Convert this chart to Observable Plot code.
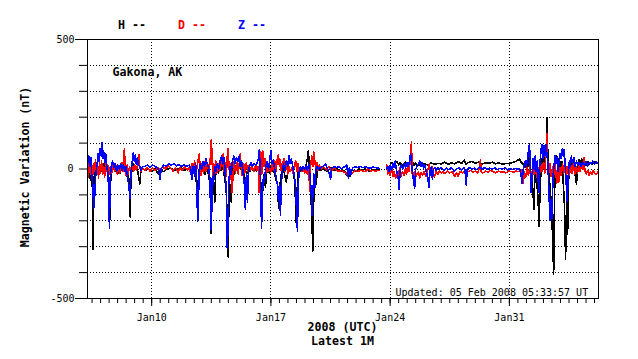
<!DOCTYPE html>
<html><head><meta charset="utf-8">
<script src="https://cdn.jsdelivr.net/npm/d3@7"></script>
<script src="https://cdn.jsdelivr.net/npm/@observablehq/plot@0.6"></script>
<style>body{margin:0;background:#fff}svg{display:block}</style>
</head><body><div id="chart"></div>
<script>
// Time is fractional day of January 2008 (UTC); values in nT.
const H = [[6.23,-10],[6.3,15],[6.36,-30],[6.42,-45],[6.48,-10],[6.52,-80],[6.56,-310],[6.6,-40],[6.66,-20],[6.72,10],[6.8,-15],[6.88,5],[6.95,-20],[7.02,15],[7.1,-10],[7.18,20],[7.26,0],[7.34,10],[7.42,-20],[7.5,-60],[7.55,-195],[7.6,-30],[7.68,0],[7.76,15],[7.84,-10],[7.92,5],[8.0,-20],[8.08,0],[8.15,-15],[8.22,10],[8.3,-5],[8.38,10],[8.46,-15],[8.55,-30],[8.62,-20],[8.7,-60],[8.74,-185],[8.78,-40],[8.86,5],[8.94,20],[9.02,0],[9.1,10],[9.18,-10],[9.26,-40],[9.3,-58],[9.36,-10],[9.45,0],
[9.6,-5],[9.8,0],[10.0,-8],[10.2,0],[10.4,-20],[10.5,-5],[10.7,-10],[10.9,0],[11.1,5],[11.3,-5],[11.5,0],[11.7,5],[11.9,-5],[12.1,0],
[12.2,5],[12.3,-10],[12.4,10],[12.5,-20],[12.6,-40],[12.7,-85],[12.75,-30],[12.82,10],[12.9,-15],[12.98,20],[13.06,0],[13.14,-20],[13.22,10],[13.3,-10],[13.38,-40],[13.45,-120],[13.5,-250],[13.55,-60],[13.62,-20],[13.7,-127],[13.75,-30],[13.82,10],[13.9,-15],[13.98,20],[14.06,-5],[14.14,15],[14.22,-10],[14.3,-40],[14.38,-90],[14.44,-200],[14.49,-340],[14.53,-150],[14.6,-60],[14.67,-127],[14.72,-30],[14.8,10],[14.88,-20],[14.96,15],[15.04,-10],[15.12,20],[15.2,0],[15.28,15],[15.36,-10],[15.44,-30],[15.52,-60],[15.58,-20],[15.66,5],[15.76,-10],[15.86,5],[15.96,-5],[16.06,10],[16.16,-10],[16.26,5],
[16.34,-20],[16.42,-60],[16.48,-135],[16.54,-60],[16.6,-20],[16.68,-70],[16.74,-20],[16.82,5],[16.9,-15],[16.98,10],[17.06,-10],[17.14,5],[17.22,-20],[17.3,-40],[17.38,-60],[17.45,-150],[17.5,-130],[17.56,-40],[17.64,-10],[17.72,5],[17.8,-20],[17.9,-50],[17.98,-15],[18.06,0],[18.14,-10],[18.22,5],[18.3,-15],[18.38,-40],[18.44,-120],[18.49,-208],[18.54,-80],[18.6,-10],[18.68,5],[18.78,-10],[18.88,0],[18.98,-15],[19.06,10],[19.14,40],[19.2,70],[19.26,10],[19.32,-60],[19.4,-180],[19.46,-317],[19.52,-100],[19.58,-40],[19.66,-60],[19.72,-10],[19.8,0],
[19.9,-5],[20.1,0],[20.3,-10],[20.5,5],[20.7,-5],[20.9,0],[21.1,-10],[21.3,-5],[21.45,-25],[21.55,-10],[21.65,-30],[21.75,-5],[21.95,-10],[22.15,0],[22.35,-5],[22.55,0],[22.75,-8],[22.95,-3],[23.15,-5],[23.35,-3],[23.6,null],
[23.82,5],[23.9,-5],[24.0,15],[24.1,25],[24.2,10],[24.3,20],[24.4,30],[24.5,15],[24.6,25],[24.7,10],[24.8,20],[24.9,28],[25.0,15],[25.1,25],[25.2,18],[25.3,28],[25.4,15],[25.5,22],[25.6,12],
[25.8,20],[26.0,22],[26.2,15],[26.4,24],[26.6,18],[26.8,22],[27.0,20],[27.2,26],[27.4,18],[27.6,24],[27.8,20],[28.0,28],[28.2,22],[28.35,35],[28.45,18],[28.6,25],[28.8,30],[29.0,22],[29.2,26],[29.4,20],[29.6,24],[29.8,22],[30.0,26],[30.2,20],[30.4,24],[30.6,18],[30.8,22],[31.0,20],[31.2,26],[31.4,30],[31.6,38],[31.7,25],
[31.8,20],[31.9,5],[32.0,25],[32.08,10],[32.15,48],[32.22,0],[32.3,-40],[32.38,-80],[32.44,-155],[32.5,-30],[32.56,20],[32.62,-60],[32.68,-110],[32.74,-220],[32.8,-90],[32.86,0],[32.92,40],[33.0,10],[33.06,50],[33.12,30],[33.18,90],[33.22,197],[33.26,40],[33.32,-20],[33.4,-80],[33.48,-150],[33.55,-300],[33.6,-405],[33.65,-100],[33.7,20],[33.78,50],[33.86,10],[33.94,45],[34.0,-10],[34.08,30],[34.16,-50],[34.24,-150],[34.3,-348],[34.36,-120],[34.42,-250],[34.48,-40],[34.55,30],[34.62,45],[34.7,0],[34.78,40],[34.86,-20],[34.94,-60],[35.0,10],[35.08,35],[35.16,15],[35.24,40],[35.32,20],[35.4,30],[35.5,15],[35.6,28],[35.7,18],[35.8,25],[35.9,20],[36.0,28],[36.1,22],[36.23,25]];

const D = [[6.23,10],[6.28,-30],[6.34,40],[6.4,-20],[6.46,30],[6.52,-40],[6.58,20],[6.64,-10],[6.7,35],[6.76,-25],[6.82,15],[6.88,-35],[6.94,25],[7.0,-15],[7.06,30],[7.12,-20],[7.18,10],[7.24,-30],[7.3,20],[7.36,-10],[7.42,15],[7.5,-20],[7.58,10],[7.66,-15],[7.74,20],[7.82,-10],[7.9,15],[7.98,-20],[8.06,10],[8.14,-15],[8.22,25],[8.3,-10],[8.36,50],[8.4,78],[8.44,10],[8.5,-25],[8.56,15],[8.62,-20],[8.7,10],[8.78,-15],[8.86,20],[8.94,-10],[9.02,15],[9.1,-5],[9.18,20],[9.26,55],[9.3,10],[9.38,-10],[9.46,5],
[9.6,-5],[9.75,5],[9.9,-8],[10.05,3],[10.2,-5],[10.35,5],[10.5,-3],[10.65,8],[10.8,0],[10.95,12],[11.1,5],[11.25,-8],[11.4,5],[11.55,-15],[11.65,5],[11.8,-5],[11.95,8],[12.1,-3],
[12.2,5],[12.28,-15],[12.36,20],[12.44,-10],[12.52,30],[12.6,-20],[12.68,15],[12.76,45],[12.8,58],[12.84,0],[12.9,-25],[12.96,20],[13.04,-15],[13.12,30],[13.2,-10],[13.28,25],[13.36,-20],[13.44,40],[13.5,112],[13.54,60],[13.58,-30],[13.64,20],[13.7,-20],[13.76,30],[13.82,-15],[13.9,20],[13.98,-10],[14.06,30],[14.14,10],[14.2,58],[14.26,-10],[14.32,25],[14.38,-30],[14.44,50],[14.48,80],[14.54,10],[14.6,-40],[14.66,20],[14.72,-90],[14.78,-20],[14.84,30],[14.92,-15],[15.0,25],[15.08,-20],[15.14,20],[15.2,58],[15.26,5],[15.32,-25],[15.4,20],[15.48,-15],[15.56,25],[15.64,-10],[15.72,15],[15.8,-5],[15.9,10],[16.0,-10],[16.1,15],[16.2,-5],
[16.26,10],[16.3,-90],[16.34,30],[16.4,65],[16.46,-20],[16.52,70],[16.58,10],[16.64,40],[16.7,-20],[16.76,25],[16.82,-10],[16.9,15],[16.98,-15],[17.06,20],[17.14,-5],[17.22,30],[17.3,-10],[17.38,40],[17.44,55],[17.5,10],[17.56,35],[17.62,-15],[17.7,25],[17.78,40],[17.84,-10],[17.92,30],[17.98,-20],[18.06,10],[18.14,-10],[18.22,5],[18.3,-15],[18.38,15],[18.46,30],[18.52,-10],[18.58,20],[18.66,-5],[18.74,10],[18.82,-10],[18.9,5],[18.98,-15],[19.06,10],[19.14,-20],[19.22,5],[19.28,-85],[19.34,20],[19.4,50],[19.46,10],[19.52,65],[19.58,30],[19.64,0],[19.7,25],[19.76,-5],[19.84,15],
[19.95,0],[20.1,8],[20.25,-3],[20.4,10],[20.55,-8],[20.7,5],[20.85,-5],[21.0,-10],[21.15,-5],[21.3,-12],[21.45,-20],[21.55,0],[21.65,-8],[21.8,-15],[21.95,-5],[22.1,-10],[22.25,-5],[22.4,-8],[22.55,-10],[22.7,0],[22.85,-8],[23.0,-5],[23.15,-8],[23.35,-5],[23.6,null],
[23.8,15],[23.86,-20],[23.92,10],[24.0,-25],[24.08,5],[24.16,-30],[24.24,-10],[24.32,-35],[24.4,-15],[24.48,-25],[24.56,5],[24.64,-30],[24.72,-10],[24.8,-25],[24.88,0],[24.96,-20],[25.04,20],[25.12,-10],[25.2,60],[25.25,104],[25.3,-20],[25.36,-35],[25.42,-10],[25.5,-30],[25.58,-20],
[25.66,-10],[25.74,-35],[25.82,-15],[25.9,-25],[26.0,-10],[26.1,-30],[26.2,-5],[26.3,20],[26.36,-25],[26.44,10],[26.52,-15],[26.6,-30],[26.7,-10],[26.8,-20],[26.9,-8],[27.0,-15],[27.1,-10],[27.2,-18],[27.35,-8],[27.5,-15],[27.65,-10],[27.8,-30],[27.9,-15],[28.0,-28],[28.1,-10],[28.25,-15],[28.4,-8],[28.55,-12],[28.7,-5],[28.85,-12],[29.0,-8],[29.15,-15],[29.25,10],[29.3,35],[29.35,-10],[29.45,-15],[29.6,-8],[29.75,-12],[29.9,-5],[30.05,-10],[30.2,-15],[30.35,-8],[30.5,-12],[30.65,-10],[30.8,-15],[30.95,-8],[31.1,-10],[31.25,-12],[31.4,-8],[31.55,-10],
[31.7,-5],[31.76,-40],[31.82,-55],[31.88,-10],[31.96,-30],[32.04,5],[32.12,-25],[32.2,10],[32.28,-35],[32.36,0],[32.44,-20],[32.52,15],[32.6,-30],[32.68,5],[32.76,-25],[32.84,20],[32.92,-10],[33.0,25],[33.08,-15],[33.14,60],[33.2,138],[33.25,30],[33.3,-20],[33.38,20],[33.46,-30],[33.54,10],[33.62,-20],[33.7,15],[33.78,-55],[33.84,-10],[33.9,-50],[33.96,5],[34.04,-25],[34.12,20],[34.2,-15],[34.28,25],[34.36,-20],[34.44,10],[34.52,-25],[34.6,15],[34.68,-15],[34.76,20],[34.84,-20],[34.92,10],[35.0,-15],[35.08,15],[35.16,-10],[35.24,20],[35.32,0],[35.38,45],[35.44,-10],[35.52,-20],[35.6,-5],[35.68,-25],[35.76,-10],[35.84,-20],[35.92,-5],[36.0,-15],[36.1,-20],[36.23,-10]];

const Z = [[6.23,40],[6.3,50],[6.36,10],[6.42,45],[6.48,-20],[6.54,-60],[6.6,-150],[6.66,-100],[6.72,-20],[6.8,20],[6.86,60],[6.92,30],[6.98,80],[7.04,50],[7.08,100],[7.12,40],[7.18,70],[7.24,20],[7.3,60],[7.36,10],[7.42,-10],[7.48,-80],[7.52,-227],[7.56,-40],[7.62,10],[7.7,30],[7.78,5],[7.86,20],[7.94,-10],[8.02,15],[8.1,0],[8.18,20],[8.26,-5],[8.34,15],[8.42,-10],[8.5,10],[8.58,-30],[8.66,-60],[8.72,-115],[8.78,-20],[8.86,30],[8.92,62],[8.98,30],[9.04,55],[9.1,20],[9.16,45],[9.22,15],[9.3,10],[9.38,-5],[9.46,10],
[9.6,10],[9.75,15],[9.9,5],[10.05,15],[10.2,10],[10.35,5],[10.45,-20],[10.5,-40],[10.55,0],[10.7,15],[10.85,10],[11.0,20],[11.15,15],[11.3,20],[11.45,12],[11.6,18],[11.75,10],[11.9,15],[12.05,10],
[12.2,15],[12.28,5],[12.36,-40],[12.42,10],[12.5,-20],[12.58,20],[12.64,-60],[12.7,-200],[12.74,-150],[12.78,-20],[12.86,20],[12.94,0],[13.02,30],[13.1,10],[13.18,40],[13.26,20],[13.34,5],[13.42,-40],[13.48,-232],[13.52,-180],[13.56,-30],[13.62,-60],[13.7,10],[13.78,-10],[13.86,20],[13.94,0],[14.02,30],[14.1,50],[14.18,20],[14.26,45],[14.32,-20],[14.38,-80],[14.44,-305],[14.48,-230],[14.52,-60],[14.6,10],[14.66,-20],[14.74,30],[14.82,50],[14.9,20],[14.98,45],[15.06,30],[15.14,50],[15.2,10],[15.28,30],[15.36,-10],[15.44,-60],[15.5,-155],[15.56,-20],[15.62,-130],[15.68,-10],[15.76,15],[15.84,25],[15.92,10],[16.0,20],[16.1,15],[16.2,25],
[16.26,40],[16.32,73],[16.36,20],[16.4,-80],[16.45,-228],[16.5,-100],[16.56,-30],[16.62,-50],[16.7,10],[16.78,30],[16.86,0],[16.94,40],[17.0,70],[17.06,20],[17.14,35],[17.22,0],[17.3,-30],[17.38,-60],[17.44,-120],[17.5,-60],[17.56,-178],[17.6,-80],[17.66,-10],[17.74,20],[17.82,-5],[17.9,30],[17.98,10],[18.06,50],[18.12,20],[18.2,40],[18.28,10],[18.36,-20],[18.44,-60],[18.5,-150],[18.56,-242],[18.6,-60],[18.66,-10],[18.74,10],[18.82,-5],[18.9,10],[18.98,0],[19.06,15],[19.14,-5],[19.22,20],[19.3,-30],[19.36,-80],[19.42,-180],[19.46,-100],[19.52,-20],[19.58,-70],[19.64,0],[19.72,10],[19.8,0],
[19.9,5],[20.05,10],[20.2,20],[20.3,5],[20.42,-15],[20.5,-40],[20.56,0],[20.7,10],[20.85,5],[21.0,10],[21.15,0],[21.3,8],[21.45,15],[21.55,-35],[21.6,5],[21.7,-20],[21.8,5],[21.95,8],[22.1,5],[22.25,10],[22.4,5],[22.55,8],[22.7,5],[22.85,3],[23.0,8],[23.15,5],[23.35,3],[23.6,null],
[23.8,0],[23.86,10],[23.92,-10],[24.0,15],[24.08,-5],[24.16,20],[24.24,5],[24.3,30],[24.36,0],[24.42,-20],[24.48,-40],[24.53,-78],[24.58,-10],[24.66,15],[24.74,0],[24.82,20],[24.9,5],[24.98,25],[25.06,10],[25.14,30],[25.2,60],[25.26,20],[25.32,-20],[25.38,-50],[25.44,-73],[25.5,0],[25.58,10],
[25.66,20],[25.74,30],[25.8,10],[25.88,25],[25.96,5],[26.04,15],[26.12,-10],[26.2,-30],[26.28,-70],[26.34,-10],[26.42,10],[26.48,-40],[26.54,0],[26.62,5],[26.7,-5],[26.8,5],[26.9,0],[27.0,5],[27.15,-5],[27.3,3],[27.45,-3],[27.6,5],[27.75,-8],[27.9,0],[28.05,5],[28.2,-3],[28.35,5],[28.42,-20],[28.47,-63],[28.52,0],[28.65,5],[28.8,0],[28.95,3],[29.1,-3],[29.25,8],[29.4,0],[29.55,5],[29.7,-2],[29.85,3],[30.0,0],[30.15,5],[30.3,-2],[30.45,3],[30.6,0],[30.75,4],[30.9,-3],[31.05,2],[31.2,-2],[31.35,2],[31.5,0],
[31.6,0],[31.68,-20],[31.74,-55],[31.8,-10],[31.86,10],[31.94,30],[32.0,10],[32.06,40],[32.12,70],[32.18,96],[32.22,30],[32.28,-90],[32.34,-20],[32.4,40],[32.46,0],[32.52,50],[32.58,-10],[32.64,30],[32.7,-50],[32.74,-90],[32.78,10],[32.84,60],[32.9,95],[32.96,40],[33.02,90],[33.08,50],[33.14,95],[33.2,60],[33.26,20],[33.32,-80],[33.38,-200],[33.44,-120],[33.5,-190],[33.56,-30],[33.62,10],[33.68,50],[33.74,20],[33.8,45],[33.86,-10],[33.92,30],[33.98,60],[34.04,40],[34.1,77],[34.16,50],[34.22,75],[34.28,10],[34.34,-60],[34.4,-123],[34.46,-20],[34.52,30],[34.58,10],[34.64,50],[34.7,20],[34.78,45],[34.86,10],[34.94,30],[35.02,15],[35.1,25],[35.2,10],[35.3,25],[35.4,15],[35.5,28],[35.6,12],[35.7,25],[35.8,20],[35.9,30],[36.0,18],[36.1,28],[36.23,22]];

const seriesNames = ["H", "D", "Z"];
const yTicks = [-500, -400, -300, -200, -100, 0, 100, 200, 300, 400, 500];
const yTickLabels = ["-500", "", "", "", "", "0", "", "", "", "", "500"];
const xTickLabels = ["Jan10", "Jan17", "Jan24", "Jan31"];
const stationName = "Gakona, AK";
const updatedText = "Updated: 05 Feb 2008 05:33:57 UT";
const xTitle = ["2008 (UTC)", "Latest 1M"];
const yTitle = "Magnetic Variation (nT)";
const startDay = 6 + (5 * 3600 + 33 * 60 + 57) / 86400;
const endDay = 36 + (5 * 3600 + 33 * 60 + 57) / 86400;

const toDate = d => new Date(Date.UTC(2008, 0, 1) + (d - 1) * 864e5);
const colors = {H: "#000000", D: "#ff0000", Z: "#0000ff"};
const rows = s => ({H, D, Z})[s].map(([t, v]) => ({time: toDate(t), value: v}));

const x0 = toDate(startDay), x1 = toDate(endDay);
const halfDays = d3.utcHour.every(12).range(x0, x1);
const majors = d3.utcThursday.range(x0, x1);
const grid = yTicks.filter(v => Math.abs(v) < 500);
const font = "DejaVu Sans Mono";

const chart = Plot.plot({
  width: 638, height: 359,
  marginLeft: 87, marginRight: 40, marginTop: 39, marginBottom: 61,
  style: {fontFamily: font, fontSize: "10px", background: "#fff", color: "#000"},
  x: {type: "utc", domain: [x0, x1]},
  y: {domain: [-500, 500]},
  marks: [
    Plot.ruleY(grid, {stroke: "#000", strokeDasharray: "1,2", strokeWidth: 1, shapeRendering: "crispEdges"}),
    Plot.ruleX(majors, {stroke: "#000", strokeDasharray: "1,2", strokeWidth: 1, shapeRendering: "crispEdges"}),
    ...seriesNames.map(s => Plot.line(rows(s), {x: "time", y: "value", stroke: colors[s], strokeWidth: 1.6, curve: "linear", shapeRendering: "crispEdges"})),
    Plot.frame({stroke: "#000", strokeWidth: 1, shapeRendering: "crispEdges"}),
    Plot.axisY(yTicks.filter(v => Math.abs(v) < 500), {tickSize: 8, tickPadding: 6, tickFormat: v => yTickLabels[yTicks.indexOf(v)], label: null, stroke: "#000"}),
    Plot.axisY([-500, 500], {tickSize: 12, tickPadding: 1, tickFormat: v => yTickLabels[yTicks.indexOf(v)], label: null, stroke: "#000"}),
    Plot.axisX(halfDays, {tickSize: 5, tickFormat: () => "", label: null, stroke: "#000"}),
    Plot.axisX(majors, {tickSize: 8, tickPadding: 7, tickFormat: (d, i) => xTickLabels[i], label: null, stroke: "#000"})
  ]
});
document.getElementById("chart").appendChild(chart);

const svg = d3.select(chart);
const addText = (txt, x, y, opts = {}) => svg.append("text")
  .attr("x", x).attr("y", y)
  .attr("font-family", font)
  .attr("font-size", opts.size || 10)
  .attr("font-weight", opts.bold ? "bold" : "normal")
  .attr("fill", opts.fill || "#000")
  .attr("text-anchor", opts.anchor || "start")
  .attr("transform", opts.transform || null)
  .text(txt);

seriesNames.forEach((s, i) => addText(s + " --", 118 + i * 60, 28.5, {bold: true, size: 11.6, fill: colors[s]}));
addText(stationName, 112.5, 76, {bold: true, size: 11.6});
addText(updatedText, 395.5, 295.5, {size: 10});
addText(xTitle[0], 342.5, 331, {bold: true, size: 11.6, anchor: "middle"});
addText(xTitle[1], 342.5, 345, {bold: true, size: 11.6, anchor: "middle"});
addText(yTitle, 0, 0, {bold: true, size: 11.6, anchor: "middle", transform: "translate(28.5,167) rotate(-90)"});
</script>
</body></html>
